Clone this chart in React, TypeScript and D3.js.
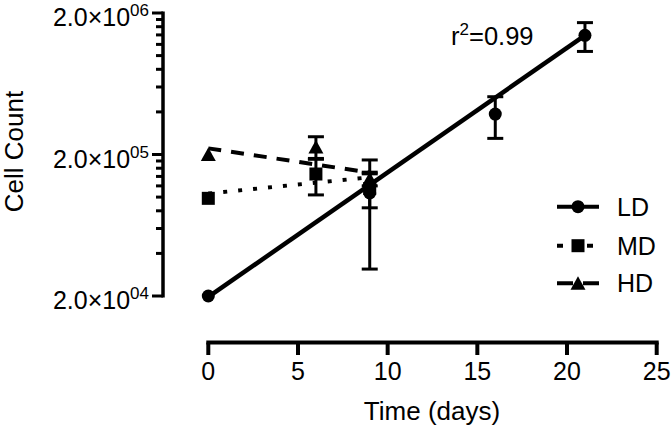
import React from "react";
import * as d3 from "d3";

// ---- data ----
const ldDays = [0, 9, 16, 21];
const ldMean = [20000, 107000, 386000, 1390000];
const ldSD = [0, 76000, 126000, 320000];

const mdDays = [0, 6, 9];
const mdMean = [98000, 145600, 115000];
const mdSD = [0, 42000, 31000];

const hdDays = [0, 6, 9];
const hdMean = [200000, 226000, 135000];
const hdSD = [0, 41000, 15000];

// fitted exponential curves: value at first and last day
const fitDays = [[0, 21], [0, 9], [0, 9]];
const fitValues = [[19700, 1390000], [106000, 138000], [221000, 149000]];

const xTicks = [0, 5, 10, 15, 20, 25];
const yMajor = [20000, 200000, 2000000];
const yMajorLabels = [["2.0×10", "04"], ["2.0×10", "05"], ["2.0×10", "06"]];
const legendLabels = ["LD", "MD", "HD"];
const rSquared = "0.99";

const W = 671, H = 429;
const FONT = "'Liberation Sans', Arial, Helvetica, sans-serif";

const x = d3.scaleLinear().domain([0, 25]).range([208.3, 656.7]);
const y = d3.scaleLog().domain([20000, 2000000]).range([296, 13]);

const yAxisX = 163;
const xAxisY = 342.5;

type Shape = "circle" | "square" | "triangle";

function Marker({ cx, cy, shape }: { cx: number; cy: number; shape: Shape }) {
  if (shape === "circle") return <circle cx={cx} cy={cy} r={6.5} fill="#000" />;
  if (shape === "square") return <rect x={cx - 6.5} y={cy - 6.5} width={13} height={13} fill="#000" />;
  const p = d3.path();
  p.moveTo(cx, cy - 7);
  p.lineTo(cx + 7.5, cy + 6.5);
  p.lineTo(cx - 7.5, cy + 6.5);
  p.closePath();
  return <path d={p.toString()} fill="#000" />;
}

function Series({ days, mean, sd, shape }: { days: number[]; mean: number[]; sd: number[]; shape: Shape }) {
  return (
    <g>
      {days.map((d, i) => {
        if (!sd[i]) return null;
        const cx = x(d);
        const top = y(mean[i] + sd[i]);
        const bot = y(mean[i] - sd[i]);
        return (
          <g key={"e" + i} stroke="#000" strokeWidth={3}>
            <line x1={cx} x2={cx} y1={top} y2={bot} />
            <line x1={cx - 8} x2={cx + 8} y1={top} y2={top} />
            <line x1={cx - 8} x2={cx + 8} y1={bot} y2={bot} />
          </g>
        );
      })}
      {days.map((d, i) => (
        <Marker key={"m" + i} cx={x(d)} cy={y(mean[i])} shape={shape} />
      ))}
    </g>
  );
}

export default function App() {
  const line = d3
    .line<[number, number]>()
    .x((d) => x(d[0]))
    .y((d) => y(d[1]));
  const fitStyles = [
    { dash: undefined, width: 4.5 },
    { dash: "4 11", width: 4 },
    { dash: "13 10", width: 4 },
  ];
  const fits = fitDays.map((ds, k) =>
    line(ds.map((dd, j) => [dd, fitValues[k][j]] as [number, number]))
  );

  const minor: number[] = [];
  [20000, 200000].forEach((dec) => {
    for (let k = 2; k <= 9; k++) minor.push(dec * k);
  });

  const legendY = [206.7, 245.7, 283.3];
  const legendShapes: Shape[] = ["circle", "square", "triangle"];
  const legendDash = [undefined, "6 9", "16 10"];

  return (
    <svg width={W} height={H} style={{ position: "absolute", left: 0, top: 0, background: "#fff" }} fontFamily={FONT}>
      <rect width={W} height={H} fill="#fff" />
      {/* Y axis */}
      <g stroke="#000">
        <line x1={yAxisX} x2={yAxisX} y1={y(2000000) - 1.5} y2={y(20000) + 1.5} strokeWidth={3.5} />
        {yMajor.map((v) => (
          <line key={"M" + v} x1={yAxisX - 11} x2={yAxisX} y1={y(v)} y2={y(v)} strokeWidth={3} />
        ))}
        {minor.map((v) => (
          <line key={"m" + v} x1={yAxisX - 7} x2={yAxisX} y1={y(v)} y2={y(v)} strokeWidth={3} />
        ))}
      </g>
      {yMajor.map((v, i) => (
        <text key={"yl" + v} x={149} y={y(v) + 13} textAnchor="end" fontSize={25} fill="#000">
          <tspan>{yMajorLabels[i][0]}</tspan>
          <tspan dy={-10} fontSize={17}>{yMajorLabels[i][1]}</tspan>
        </text>
      ))}
      <text transform={`translate(23,151.5) rotate(-90)`} textAnchor="middle" fontSize={26} fill="#000">
        Cell Count
      </text>

      {/* X axis */}
      <g stroke="#000">
        <line x1={x(0) - 2} x2={x(25) + 2} y1={xAxisY} y2={xAxisY} strokeWidth={4} />
        {xTicks.map((t) => (
          <line key={"xt" + t} x1={x(t)} x2={x(t)} y1={xAxisY} y2={xAxisY + 12.5} strokeWidth={4} />
        ))}
      </g>
      {xTicks.map((t) => (
        <text key={"xl" + t} x={x(t)} y={380} textAnchor="middle" fontSize={25} fill="#000">
          {t}
        </text>
      ))}
      <text x={432} y={420} textAnchor="middle" fontSize={26} fill="#000">
        Time (days)
      </text>

      {/* fit lines */}
      {fits.map((d, k) => (
        <path
          key={"f" + k}
          d={d || ""}
          fill="none"
          stroke="#000"
          strokeWidth={fitStyles[k].width}
          strokeDasharray={fitStyles[k].dash}
        />
      ))}

      <Series days={hdDays} mean={hdMean} sd={hdSD} shape="triangle" />
      <Series days={mdDays} mean={mdMean} sd={mdSD} shape="square" />
      <Series days={ldDays} mean={ldMean} sd={ldSD} shape="circle" />

      {/* r^2 */}
      <text x={451} y={45} fontSize={25.5} fill="#000">
        <tspan>r</tspan>
        <tspan dy={-10} fontSize={17}>2</tspan>
        <tspan dy={10}>={rSquared}</tspan>
      </text>

      {/* legend */}
      {legendLabels.map((lab, i) => (
        <g key={"lg" + i}>
          <line
            x1={557}
            x2={599}
            y1={legendY[i]}
            y2={legendY[i]}
            stroke="#000"
            strokeWidth={4}
            strokeDasharray={legendDash[i]}
          />
          <Marker cx={578} cy={legendY[i]} shape={legendShapes[i]} />
          <text x={617} y={legendY[i] + 9} fontSize={25} fill="#000">
            {lab}
          </text>
        </g>
      ))}
    </svg>
  );
}
